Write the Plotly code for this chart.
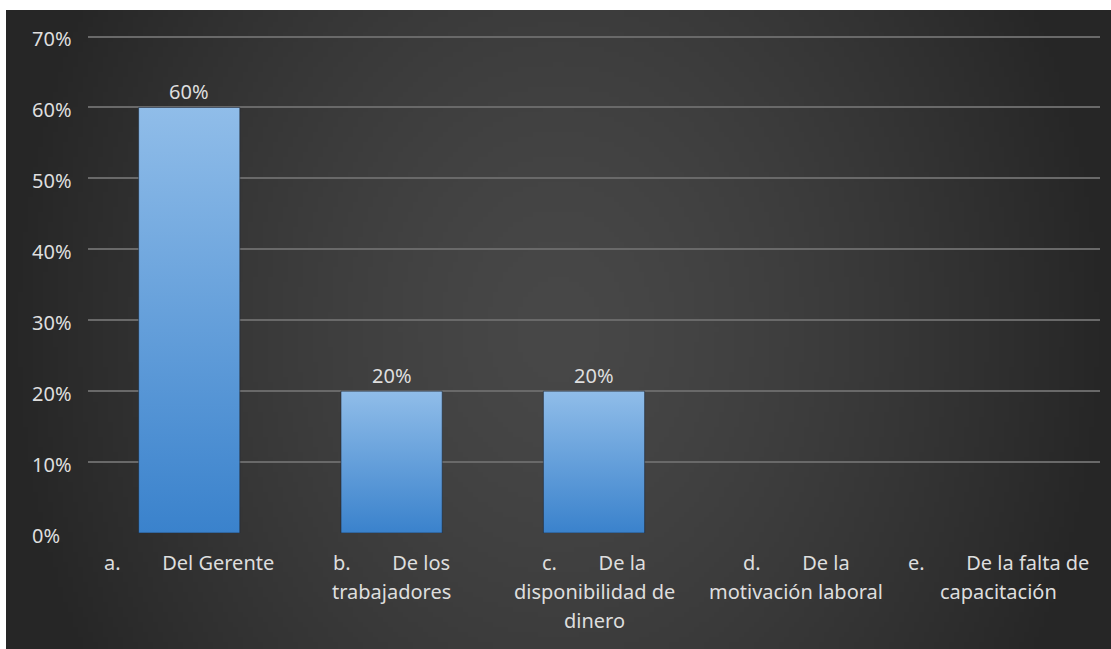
import base64
import struct
import zlib

import numpy as np
import plotly.graph_objects as go

# ---- data -------------------------------------------------------------
category_letters = ["a.", "b.", "c.", "d.", "e."]
category_names = [
    ["Del Gerente"],
    ["De los", "trabajadores"],
    ["De la", "disponibilidad de", "dinero"],
    ["De la", "motivación laboral"],
    ["De la falta de", "capacitación"],
]
values = [0.60, 0.20, 0.20, 0.0, 0.0]
y_ticks = [0.0, 0.1, 0.2, 0.3, 0.4, 0.5, 0.6, 0.7]

# ---- styling ----------------------------------------------------------
FONT = "Noto Sans"
TEXT_COLOR = "#dedede"
GRID_COLOR = "#696969"
BAR_BOTTOM = "#3a82cc"
BAR_TOP = "#90bde9"
FIG_W, FIG_H = 1111, 649
M_L, M_R, M_T, M_B = 88, 11, 33, 116
Y_MAX = 0.705                       # a little headroom so the top gridline is kept
PANEL_X0, PANEL_Y0 = 6, 10          # dark panel inset from the white page edge
GAP = "\u00a0" * 8                  # tab-like gap between letter and text
LINE_STEP = 29                      # vertical spacing of category label lines


def gray_png(arr):
    """Encode a 2-D uint8 array as a grayscale PNG data URI."""
    h, w = arr.shape
    raw = b"".join(b"\x00" + arr[r].tobytes() for r in range(h))

    def chunk(tag, data):
        body = tag + data
        return struct.pack(">I", len(data)) + body + struct.pack(">I", zlib.crc32(body) & 0xFFFFFFFF)

    png = (b"\x89PNG\r\n\x1a\n"
           + chunk(b"IHDR", struct.pack(">IIBBBBB", w, h, 8, 0, 0, 0, 0))
           + chunk(b"IDAT", zlib.compress(raw, 9))
           + chunk(b"IEND", b""))
    return "data:image/png;base64," + base64.b64encode(png).decode()


# radial dark background of the chart panel
panel_w, panel_h = FIG_W - PANEL_X0, FIG_H - PANEL_Y0
gw, gh = 221, 128
xs = (np.arange(gw) + 0.5) / gw * panel_w - panel_w / 2
ys = (np.arange(gh) + 0.5) / gh * panel_h - panel_h / 2
X, Y = np.meshgrid(xs, ys)
r = np.sqrt((X / (panel_w / 2)) ** 2 + (Y / (panel_w / 2) * 0.8) ** 2)
shade = 72 - (72 - 38) * np.clip(r, 0, 1) ** 1.4
bg_uri = gray_png(np.clip(shade, 0, 255).astype(np.uint8))

plot_w = FIG_W - M_L - M_R
plot_h = FIG_H - M_T - M_B

fig = go.Figure()

# bars with a vertical gradient fill
half = 0.25
for i, v in enumerate(values):
    if v <= 0:
        continue
    fig.add_trace(go.Scatter(
        x=[i - half, i - half, i + half, i + half, i - half],
        y=[0, v, v, 0, 0],
        mode="lines",
        fill="toself",
        fillgradient=dict(type="vertical",
                          colorscale=[[0, BAR_BOTTOM], [1, BAR_TOP]]),
        line=dict(width=1, color="rgba(25,35,50,0.55)"),
        hoverinfo="skip",
        showlegend=False,
    ))

annotations = []

# value labels above the bars
for i, v in enumerate(values):
    if v <= 0:
        continue
    annotations.append(dict(
        x=i, y=v, xref="x", yref="y", text=f"{v:.0%}", showarrow=False,
        yanchor="bottom", xanchor="center",
        font=dict(family=FONT, size=20, color=TEXT_COLOR),
    ))

# y tick labels, left aligned
for t in y_ticks:
    annotations.append(dict(
        x=0, y=t, xref="paper", yref="y", text=f"{t:.0%}", showarrow=False,
        xanchor="left", yanchor="middle", xshift=-58, yshift=-2,
        font=dict(family=FONT, size=20, color=TEXT_COLOR),
    ))

# category labels, wrapped over several lines
for i, (letter, lines) in enumerate(zip(category_letters, category_names)):
    rows = [letter + GAP + lines[0]] + lines[1:]
    for k, row in enumerate(rows):
        annotations.append(dict(
            x=i, y=0, xref="x", yref="y", text=row, showarrow=False,
            xanchor="center", yanchor="middle",
            yshift=-(LINE_STEP + LINE_STEP * k),
            font=dict(family=FONT, size=20, color=TEXT_COLOR),
        ))

fig.update_layout(
    width=FIG_W,
    height=FIG_H,
    margin=dict(l=M_L, r=M_R, t=M_T, b=M_B, pad=0),
    paper_bgcolor="white",
    plot_bgcolor="rgba(0,0,0,0)",
    showlegend=False,
    annotations=annotations,
    images=[dict(
        source=bg_uri,
        xref="paper", yref="paper",
        x=(PANEL_X0 - M_L) / plot_w,
        y=(FIG_H - M_B - PANEL_Y0) / plot_h,
        sizex=panel_w / plot_w,
        sizey=panel_h / plot_h,
        xanchor="left", yanchor="top",
        sizing="stretch",
        layer="below",
    )],
    xaxis=dict(
        range=[-0.5, len(values) - 0.5],
        showgrid=False, zeroline=False, showticklabels=False,
        showline=False, fixedrange=True,
    ),
    yaxis=dict(
        range=[0, Y_MAX],
        tickvals=y_ticks[1:],
        showticklabels=False,
        showgrid=True, gridcolor=GRID_COLOR, gridwidth=2,
        zeroline=False, showline=False, fixedrange=True,
    ),
)

fig.write_html("out.html")
